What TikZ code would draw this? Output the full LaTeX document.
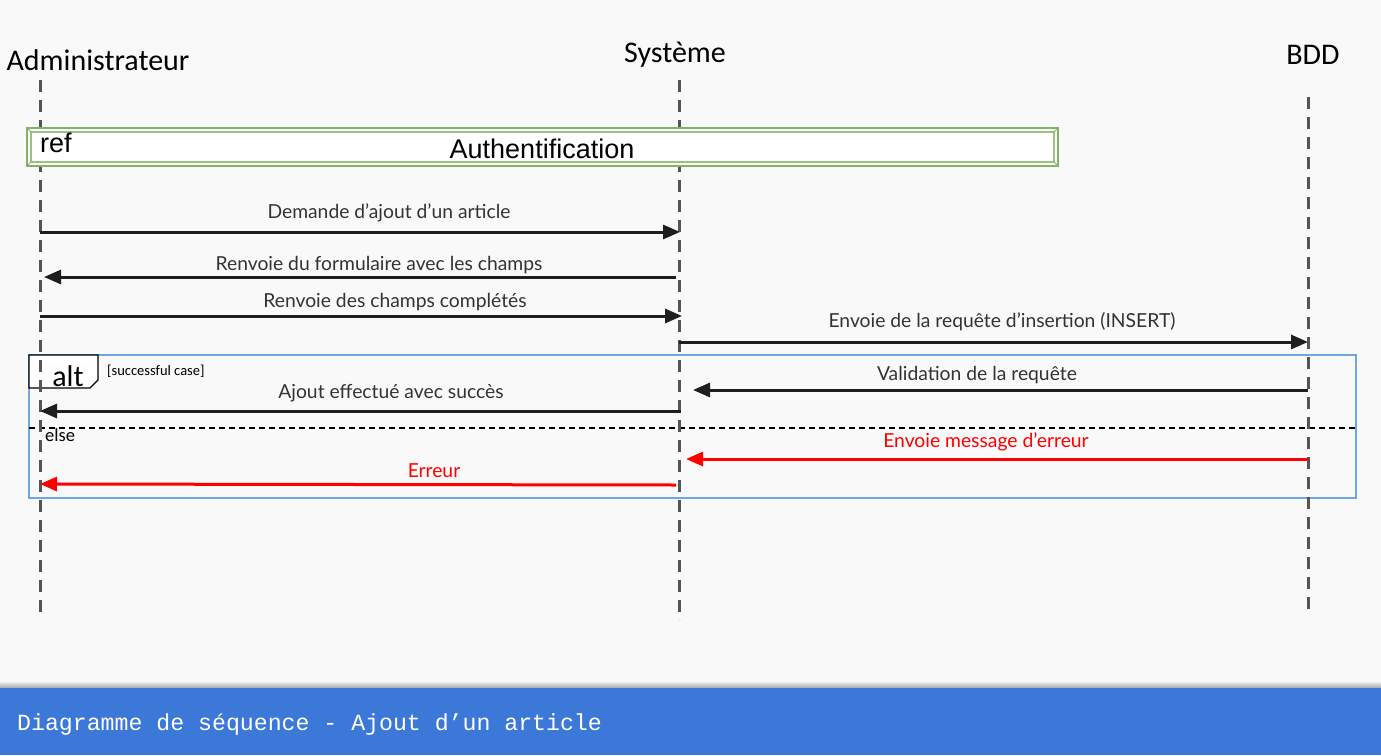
\documentclass[tikz,border=0pt]{standalone}
\usepackage{fontspec}
\setmainfont{Lato}
\newfontfamily\carlito{Carlito}
\newfontfamily\arialfont{Liberation Sans}
\setmonofont{Liberation Mono}
\usetikzlibrary{arrows.meta,positioning}

\definecolor{bggray}{HTML}{F9F9F9}
\definecolor{barblue}{HTML}{3C78D8}
\definecolor{altblue}{HTML}{6FA8DC}
\definecolor{refgreen}{HTML}{82B366}
\definecolor{lifegray}{HTML}{555555}
\definecolor{msgblack}{HTML}{1E1E1E}
\definecolor{msgtext}{HTML}{333333}

\tikzset{
  lifeline/.style={line width=3pt,draw=lifegray,dash pattern=on 12pt off 8pt},
  msg/.style={line width=3pt,draw=msgblack,-{Triangle[length=17pt,width=14pt]}},
  errmsg/.style={msg,draw=red},
  lbl/.style={font=\fontsize{19.3}{22}\selectfont,text=msgtext,inner sep=0pt},
  errlbl/.style={lbl,text=red},
  actor/.style={font=\carlito\fontsize{30}{34}\selectfont,inner sep=0pt},
}

\begin{document}
\begin{tikzpicture}[x=1pt,y=-1pt]
  \useasboundingbox (0,0) rectangle (1381,755);
  \fill[bggray] (0,0) rectangle (1381,688);
  \shade[top color=bggray,bottom color=black!35] (0,681) rectangle (1381,688);
  \fill[barblue] (0,688) rectangle (1381,755);
  \node[anchor=west,inner sep=0pt,text=white,font=\ttfamily\fontsize{23.2}{25}\selectfont] (titre) at (17,724) {Diagramme de séquence - Ajout d’un article};

  % acteurs
  \node[actor] (admin) at (98,60)   {Administrateur};
  \node[actor] (sys)   at (675,55)  {Système};
  \node[actor] (bdd)   at (1313,55) {BDD};

  % fragment alt
  \draw[altblue,line width=2.5pt] (29,355) rectangle (1356,498);
  \draw[line width=1.2pt,fill=white] (29,355) -- (98,355) -- (98,380) -- (90,388) -- (29,388) -- cycle;
  \node[font=\carlito\fontsize{30}{32}\selectfont,inner sep=0pt] (alt) at (68,376) {alt};
  \node[anchor=west,font=\carlito\fontsize{14.5}{16}\selectfont,inner sep=0pt] (garde) at (107,371) {[successful case]};
  \draw[line width=1.2pt,dash pattern=on 6pt off 4pt] (29,428) -- (1356,428);
  \node[anchor=west,font=\carlito\fontsize{18.5}{20}\selectfont,inner sep=0pt] (else) at (45,435) {else};

  % lignes de vie
  \coordinate (adminT) at (40,80);   \coordinate (adminB) at (40,612);
  \coordinate (sysT)   at (679,80);  \coordinate (sysB)   at (679,620);
  \coordinate (bddT)   at (1308,97); \coordinate (bddB)   at (1308,615);
  \draw[lifeline] (adminT) -- (adminB);
  \draw[lifeline] (sysT) -- (sysB);
  \draw[lifeline] (bddT) -- (bddB);

  % ref
  \draw[refgreen,line width=1.5pt,fill=white] (27,128) rectangle (1058,166);
  \draw[refgreen!80,line width=1.5pt] (31,132) rectangle (1054,162);
  \draw[refgreen,line width=1pt] (27,128) -- (31,132) (1058,128) -- (1054,132)
    (27,166) -- (31,162) (1058,166) -- (1054,162);
  \node[anchor=west,font=\arialfont\fontsize{27}{29}\selectfont,inner sep=0pt] (ref) at (40,143) {ref};
  \node[font=\arialfont\fontsize{27}{29}\selectfont,inner sep=0pt] (auth) at (542,149) {Authentification};

  % messages
  \coordinate (m1s) at (40,232);   \coordinate (m1e) at (680,232);
  \coordinate (m2s) at (676,277);  \coordinate (m2e) at (44,277);
  \coordinate (m3s) at (40,316);   \coordinate (m3e) at (682,316);
  \coordinate (m4s) at (679,342);  \coordinate (m4e) at (1308,342);
  \coordinate (m5s) at (1308,390); \coordinate (m5e) at (693,390);
  \coordinate (m6s) at (681,411);  \coordinate (m6e) at (40,411);
  \coordinate (m7s) at (1308,459); \coordinate (m7e) at (686,459);
  \coordinate (m8s) at (676,485);  \coordinate (m8e) at (40,484);

  \draw[msg] (m1s) -- (m1e);
  \draw[msg] (m2s) -- (m2e);
  \draw[msg] (m3s) -- (m3e);
  \draw[msg] (m4s) -- (m4e);
  \draw[msg] (m5s) -- (m5e);
  \draw[msg] (m6s) -- (m6e);
  \draw[errmsg] (m7s) -- (m7e);
  \draw[errmsg] (m8s) -- (m8e);

  \node[lbl] (l1) at (389,213)  {Demande d’ajout d’un article};
  \node[lbl] (l2) at (379,265)  {Renvoie du formulaire avec les champs};
  \node[lbl] (l3) at (395,302)  {Renvoie des champs complétés};
  \node[lbl] (l4) at (1002,322) {Envoie de la requête d’insertion (INSERT)};
  \node[lbl] (l5) at (977,375)  {Validation de la requête};
  \node[lbl] (l6) at (391,393)  {Ajout effectué avec succès};
  \node[errlbl] (l7) at (986,442) {Envoie message d’erreur};
  \node[errlbl] (l8) at (434,471) {Erreur};
\end{tikzpicture}
\end{document}
